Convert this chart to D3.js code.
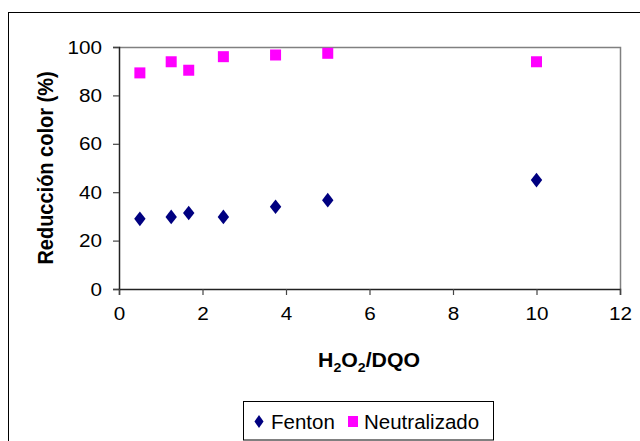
<!DOCTYPE html>
<html><head><meta charset="utf-8">
<script src="https://cdn.jsdelivr.net/npm/d3@7"></script>
<style>
html,body{margin:0;padding:0;background:#fff;overflow:hidden}
text{font-family:"Liberation Sans",Arial,sans-serif}
</style></head>
<body>
<svg id="c" width="640" height="441"></svg>
<script>
const xValues = [0.5, 1.25, 1.67, 2.5, 3.75, 5, 10];
const fenton = [29.0, 29.8, 31.4, 29.8, 34.0, 36.7, 45.0];
const neutralizado = [89.3, 93.9, 90.4, 96.0, 96.7, 97.4, 93.9];
const seriesNames = ["Fenton", "Neutralizado"];
const xTicks = [0, 2, 4, 6, 8, 10, 12];
const yTicks = [0, 20, 40, 60, 80, 100];

const svg = d3.select("#c");
const SX = 1.09; // horizontal stretch of the original text
// chart area border
svg.append("rect").attr("x", 8.5).attr("y", 12.5).attr("width", 700).attr("height", 500)
  .attr("fill", "#fff").attr("stroke", "#000").attr("stroke-width", 1);

const L = 119, R = 620, T = 47, B = 289;
const x = d3.scaleLinear().domain([0, 12]).range([L, R]);
const y = d3.scaleLinear().domain([0, 100]).range([B, T]);

// plot area border (gray)
svg.append("path").attr("d", `M${L},${T+0.5}H${R+0.5}V${B}`)
  .attr("fill", "none").attr("stroke", "#808080").attr("stroke-width", 1.5);

const yAxis = svg.append("g").attr("transform", `translate(${L},0)`)
  .call(d3.axisLeft(y).tickValues(yTicks).tickSize(6).tickPadding(11).tickFormat(d3.format("d")));
const xAxis = svg.append("g").attr("transform", `translate(0,${B})`)
  .call(d3.axisBottom(x).tickValues(xTicks).tickSize(6).tickPadding(12).tickFormat(d3.format("d")));
[yAxis, xAxis].forEach(g => {
  g.select(".domain").attr("stroke", "#222").attr("stroke-width", 1.5);
  g.selectAll(".tick line").attr("stroke", "#444").attr("stroke-width", 1.2);
  g.selectAll("text").attr("font-size", 19).attr("fill", "#000")
    .attr("font-family", '"Liberation Sans",Arial,sans-serif');
});
yAxis.selectAll(".tick text").attr("transform", `translate(-17,0) scale(${SX},1) translate(17,0)`);
xAxis.selectAll(".tick text").attr("transform", `scale(${SX},1)`)
  .attr("x", 0);

// markers
const diamond = d3.symbol().type(d3.symbolDiamond).size(62);
svg.append("g").selectAll("path").data(xValues.map((v, i) => [v, fenton[i]]))
  .join("path").attr("d", diamond)
  .attr("transform", d => `translate(${x(d[0])},${y(d[1])}) scale(1.35,1)`)
  .attr("fill", "#000080");
const sq = 11;
svg.append("g").selectAll("rect").data(xValues.map((v, i) => [v, neutralizado[i]]))
  .join("rect")
  .attr("x", d => x(d[0]) - sq / 2).attr("y", d => y(d[1]) - sq / 2)
  .attr("width", sq).attr("height", sq).attr("fill", "#FF00FF");

// axis titles
svg.append("text").attr("transform", "translate(53,168) scale(1.08,1) rotate(-90)")
  .attr("text-anchor", "middle").attr("font-size", 20).attr("font-weight", "bold")
  .text("Reducción color (%)");
const xt = svg.append("text").attr("x", 369).attr("y", 367)
  .attr("transform", `translate(369,0) scale(${SX},1) translate(-369,0)`)
  .attr("text-anchor", "middle").attr("font-size", 19.5).attr("font-weight", "bold");
xt.append("tspan").text("H");
xt.append("tspan").attr("font-size", 13).attr("dy", 5).text("2");
xt.append("tspan").attr("dy", -5).text("O");
xt.append("tspan").attr("font-size", 13).attr("dy", 5).text("2");
xt.append("tspan").attr("dy", -5).text("/DQO");

// legend
svg.append("rect").attr("x", 243.5).attr("y", 401.5).attr("width", 250).attr("height", 38.5)
  .attr("fill", "#fff").attr("stroke", "#000").attr("stroke-width", 1);
svg.append("path").attr("d", d3.symbol().type(d3.symbolDiamond).size(50))
  .attr("transform", "translate(259,421.5) scale(1.2,1)").attr("fill", "#000080");
svg.append("text").attr("x", 271).attr("y", 428.5).attr("font-size", 20.5).text(seriesNames[0]);
svg.append("rect").attr("x", 348).attr("y", 416).attr("width", 10).attr("height", 11).attr("fill", "#FF00FF");
svg.append("text").attr("x", 364).attr("y", 428.5).attr("font-size", 20.5).text(seriesNames[1]);
</script>
</body></html>
